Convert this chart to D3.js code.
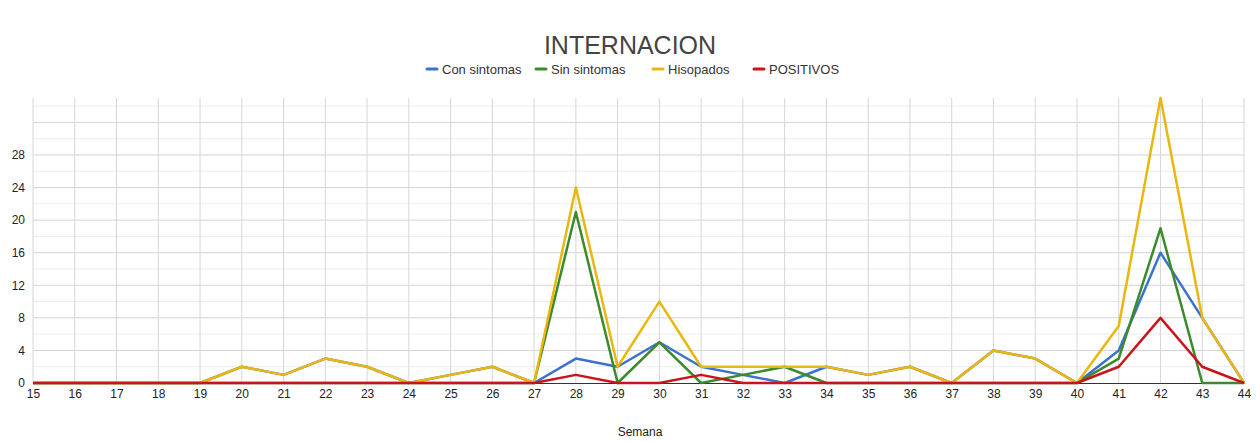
<!DOCTYPE html>
<html lang="es">
<head>
    <meta charset="UTF-8">
    <title>INTERNACION</title>
    <script src="https://d3js.org/d3.v7.min.js"></script>
    <style>
        body { margin: 0; background: #fff; }
        text { font-family: "Liberation Sans", Arial, sans-serif; }
    </style>
</head>
<body>
    <svg id="chart" width="1260" height="441"></svg>

    <script>
        // Data
        const semanas = d3.range(15, 45); // 15 .. 44
        const conSintomas = [0, 0, 0, 0, 0, 2, 1, 3, 2, 0, 1, 2, 0, 3, 2, 5, 2, 1, 0, 2, 1, 2, 0, 4, 3, 0, 4, 16, 8, 0];
        const sinSintomas = [0, 0, 0, 0, 0, 0, 0, 0, 0, 0, 0, 0, 0, 21, 0, 5, 0, 1, 2, 0, 0, 0, 0, 0, 0, 0, 3, 19, 0, 0];
        const hisopados   = [0, 0, 0, 0, 0, 2, 1, 3, 2, 0, 1, 2, 0, 24, 2, 10, 2, 2, 2, 2, 1, 2, 0, 4, 3, 0, 7, 35, 8, 0];
        const positivos   = [0, 0, 0, 0, 0, 0, 0, 0, 0, 0, 0, 0, 0, 1, 0, 0, 1, 0, 0, 0, 0, 0, 0, 0, 0, 0, 2, 8, 2, 0];
        const yTicks = [0, 4, 8, 12, 16, 20, 24, 28];

        const series = [
            { label: 'Con sintomas', values: conSintomas, color: '#3d72cc' },
            { label: 'Sin sintomas', values: sinSintomas, color: '#3b8a2c' },
            { label: 'Hisopados', values: hisopados, color: '#e9b710' },
            { label: 'POSITIVOS', values: positivos, color: '#c8141a' }
        ];

        const svg = d3.select('#chart');
        const margin = { top: 98, right: 16, bottom: 58, left: 33 };
        const width = 1260 - margin.left - margin.right;
        const height = 441 - margin.top - margin.bottom;

        const x = d3.scaleLinear()
            .domain([15, 44])
            .range([margin.left, margin.left + width]);

        const y = d3.scaleLinear()
            .domain([0, 35])
            .range([margin.top + height, margin.top]);

        // Title
        svg.append('text')
            .attr('x', 630)
            .attr('y', 54)
            .attr('text-anchor', 'middle')
            .style('font-size', '25px')
            .style('fill', '#444')
            .text('INTERNACION');

        // Legend
        const legendX = [427, 536, 653, 754];
        const legend = svg.selectAll('.legend-item')
            .data(series)
            .enter()
            .append('g')
            .attr('class', 'legend-item')
            .attr('transform', (d, i) => `translate(${legendX[i]},69)`);

        legend.append('line')
            .attr('x1', 0).attr('x2', 10)
            .attr('stroke', d => d.color)
            .attr('stroke-width', 3)
            .attr('stroke-linecap', 'round');

        legend.append('text')
            .attr('x', 15)
            .attr('y', 4.5)
            .style('font-size', '13px')
            .style('fill', '#333')
            .text(d => d.label);

        // Horizontal gridlines (minor every 2, major every 4)
        svg.append('g')
            .selectAll('line')
            .data(d3.range(2, 35, 2))
            .enter().append('line')
            .attr('x1', margin.left).attr('x2', margin.left + width)
            .attr('y1', d => y(d)).attr('y2', d => y(d))
            .attr('stroke', d => d % 4 === 0 ? '#d4d4d4' : '#ececec')
            .attr('stroke-width', 1);

        // Vertical gridlines, one per week
        svg.append('g')
            .selectAll('line')
            .data(semanas)
            .enter().append('line')
            .attr('x1', d => x(d)).attr('x2', d => x(d))
            .attr('y1', margin.top).attr('y2', margin.top + height)
            .attr('stroke', '#d6d6d6')
            .attr('stroke-width', 1);

        // Y axis labels
        const yAxis = svg.append('g')
            .attr('transform', `translate(${margin.left},0)`)
            .call(d3.axisLeft(y).tickValues(yTicks).tickSize(0).tickPadding(8));
        yAxis.select('.domain').remove();
        yAxis.selectAll('text')
            .style('font-size', '12px')
            .style('fill', '#222');

        // X axis labels
        const xAxis = svg.append('g')
            .attr('transform', `translate(0,${margin.top + height})`)
            .call(d3.axisBottom(x).tickValues(semanas).tickFormat(d3.format('d')).tickSize(0).tickPadding(6));
        xAxis.select('.domain').attr('stroke', '#333');
        xAxis.selectAll('text')
            .style('font-size', '12px')
            .style('fill', '#222');

        // Axis title
        svg.append('text')
            .attr('x', 640)
            .attr('y', 436)
            .attr('text-anchor', 'middle')
            .style('font-size', '12px')
            .style('fill', '#222')
            .text('Semana');

        // Lines
        const line = d3.line()
            .x((d, i) => x(semanas[i]))
            .y(d => y(d));

        svg.append('g')
            .selectAll('path')
            .data(series)
            .enter().append('path')
            .attr('fill', 'none')
            .attr('stroke', d => d.color)
            .attr('stroke-width', 2.5)
            .attr('stroke-linejoin', 'round')
            .attr('d', d => line(d.values));
    </script>
</body>
</html>
